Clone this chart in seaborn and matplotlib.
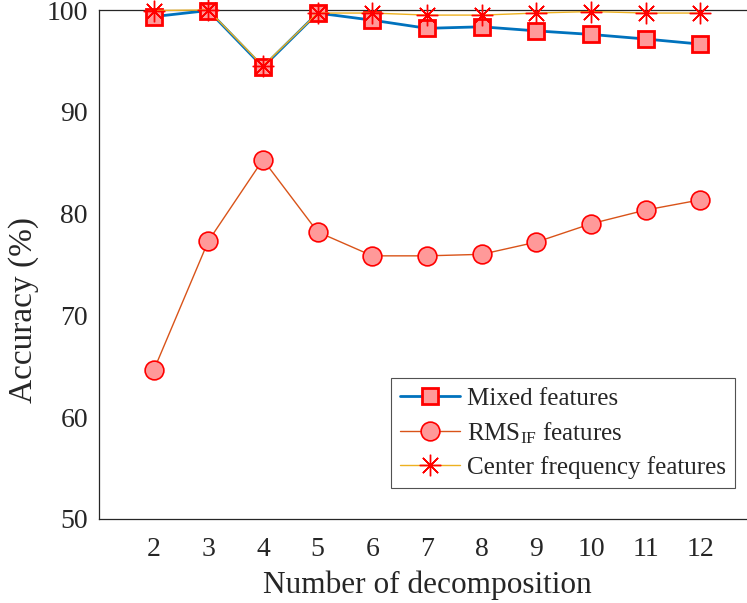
import matplotlib
matplotlib.use("Agg")
import matplotlib.pyplot as plt
import seaborn as sns
import pandas as pd

# Accuracy (%) versus number of decomposition levels
decomposition = [2, 3, 4, 5, 6, 7, 8, 9, 10, 11, 12]
mixed_features = [99.35, 99.95, 94.4, 99.7, 99.0, 98.2, 98.35, 97.95, 97.6, 97.15, 96.65]
rms_if_features = [64.6, 77.3, 85.3, 78.2, 75.85, 75.85, 76.0, 77.2, 79.0, 80.35, 81.35]
center_freq_features = [99.95, 100.0, 94.5, 99.7, 99.7, 99.5, 99.5, 99.7, 99.85, 99.7, 99.7]

series_labels = ["Mixed features", r"RMS$_{\mathrm{IF}}$ features", "Center frequency features"]
y_ticks = [50, 60, 70, 80, 90, 100]

sns.set_theme(style="white")
plt.rcParams["font.family"] = ["Liberation Serif", "DejaVu Serif"]
plt.rcParams["mathtext.fontset"] = "custom"
plt.rcParams["mathtext.rm"] = "Liberation Serif"
plt.rcParams["mathtext.it"] = "Liberation Serif:italic"

df = pd.DataFrame({
    "x": decomposition,
    "mixed": mixed_features,
    "rms": rms_if_features,
    "center": center_freq_features,
})

fig = plt.figure(figsize=(7.47, 6.03), dpi=100)
ax = fig.add_axes([99 / 747, 1 - 519 / 603, 656 / 747, 509 / 603])

pink = "#FF9999"
red = "#FF0000"

sns.lineplot(data=df, x="x", y="mixed", ax=ax, color="#0072BD", linewidth=2.0,
             marker="s", markersize=11.5, markerfacecolor=pink, markeredgecolor=red,
             markeredgewidth=2.0, label=series_labels[0], clip_on=False, zorder=3)
sns.lineplot(data=df, x="x", y="rms", ax=ax, color="#D95319", linewidth=1.0,
             marker="o", markersize=13.5, markerfacecolor=pink, markeredgecolor=red,
             markeredgewidth=1.2, label=series_labels[1], clip_on=False, zorder=3)
sns.lineplot(data=df, x="x", y="center", ax=ax, color="#EDB120", linewidth=1.0,
             marker=(8, 2, 0), markersize=15.5, markerfacecolor=red, markeredgecolor=red,
             markeredgewidth=1.0, label=series_labels[2], clip_on=False, zorder=4)

ax.set_xlim(1, 13)
ax.set_ylim(50, 100)
ax.set_xticks(decomposition)
ax.set_yticks(y_ticks)
ax.tick_params(direction="in", length=6, width=0.8, colors="#262626",
               labelsize=20, pad=8)
ax.tick_params(axis="x", pad=13)
for s in ax.spines.values():
    s.set_color("#262626")
    s.set_linewidth(0.9)

ax.set_xlabel("Number of decomposition", fontsize=22.5, color="#262626", labelpad=6)
ax.set_ylabel("Accuracy (%)", fontsize=24, color="#262626")
ax.yaxis.set_label_coords(-0.092, 0.41)

leg = ax.legend(loc="lower right", bbox_to_anchor=(0.9695, 0.061), fontsize=18,
                frameon=True, fancybox=False, edgecolor="#262626",
                handlelength=2.4, borderpad=0.35, labelspacing=0.42, handletextpad=0.3,
                borderaxespad=0)
leg.get_frame().set_linewidth(0.8)

fig.savefig("out.png", dpi=100)
